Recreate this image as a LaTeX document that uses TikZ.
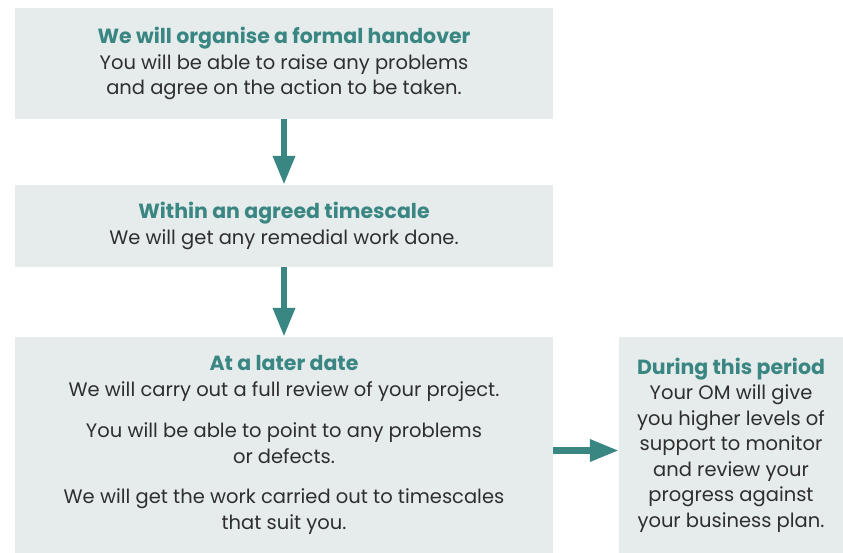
\documentclass[tikz,border=0pt]{standalone}
\usepackage{fontspec}
\setmainfont{Poppins}
\usetikzlibrary{arrows.meta}
\definecolor{boxfill}{HTML}{E6ECEC}
\definecolor{teal}{HTML}{3A8682}
\definecolor{bodytext}{HTML}{2E2E2E}
\tikzset{
  panel/.style={fill=boxfill, draw=none, inner sep=0pt, align=center,
    text=bodytext, font=\fontsize{19.5}{25.5}\selectfont},
  flowarrow/.style={draw=teal, line width=6.5pt,
    -{Triangle[width=21pt,length=29pt]}, shorten <=0pt},
}
\newcommand{\hd}[1]{{\fontsize{20.5}{25.5}\selectfont\bfseries\color{teal}#1}}
\begin{document}
\begin{tikzpicture}[x=1pt,y=-1pt]
\useasboundingbox (0,0) rectangle (843,552);
\node[panel, minimum width=538pt, minimum height=111pt] (b1) at (284,63.5)
  {\hd{We will organise a formal handover}\\You will be able to raise any problems\\and agree on the action to be taken.};
\node[panel, minimum width=538pt, minimum height=82pt] (b2) at (284,226)
  {\hd{Within an agreed timescale}\\We will get any remedial work done.};
\node[panel, minimum width=538pt, minimum height=216pt] (b3) at (284,445)
  {\hd{At a later date}\\We will carry out a full review of your project.\\[16pt]You will be able to point to any problems\\or defects.\\[15pt]We will get the work carried out to timescales\\that suit you.};
\node[panel, minimum width=224pt, minimum height=216pt] (b4) at (731,445)
  {\hd{During this period}\\Your OM will give\\you higher levels of\\support to monitor\\and review your\\progress against\\your business plan.};
\draw[flowarrow] (b1.south) -- (b2.north);
\draw[flowarrow] (b2.south) -- (b3.north);
\draw[flowarrow] ([yshift=-5.5pt]b3.east) -- ([yshift=-5.5pt]b4.west);
\end{tikzpicture}
\end{document}
